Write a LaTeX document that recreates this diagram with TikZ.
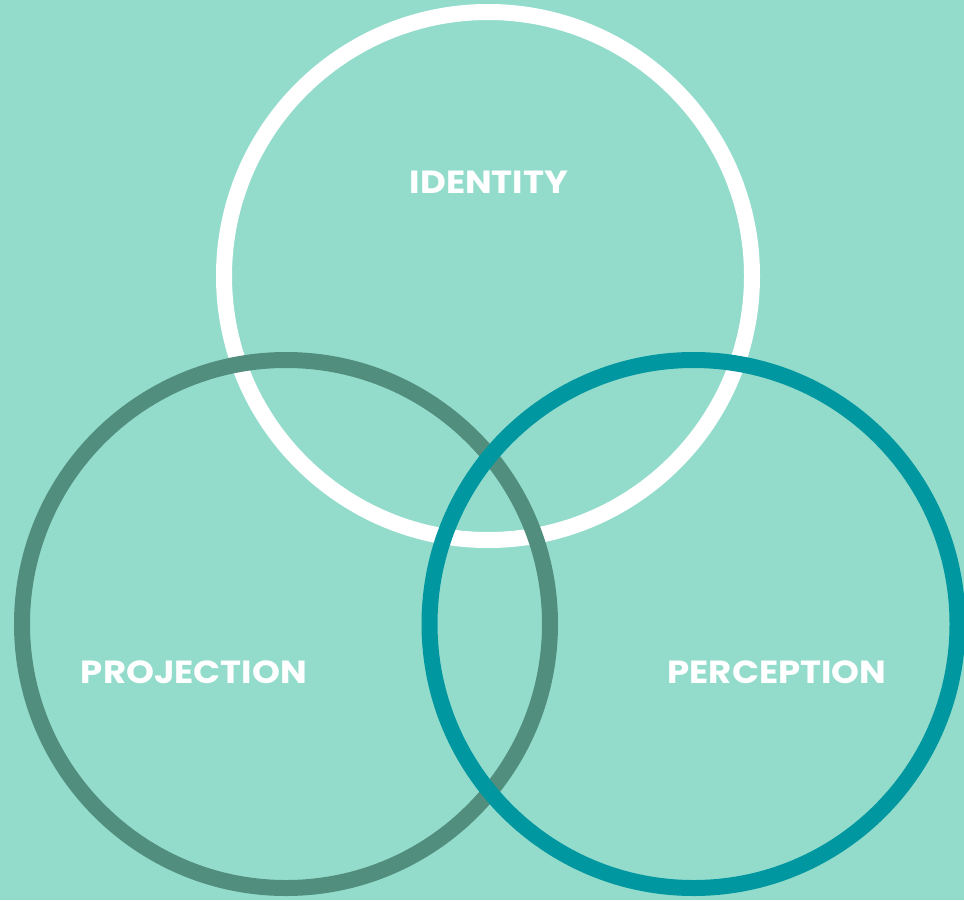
\documentclass[tikz,border=0pt]{standalone}
\usepackage{fontspec}
\setmainfont{Poppins}
\newfontfamily\lblfont[FakeStretch=1.11]{Poppins}
\definecolor{bgc}{HTML}{93DCCC}
\definecolor{grayc}{HTML}{528E7E}
\definecolor{tealc}{HTML}{0097A0}
\begin{document}
\begin{tikzpicture}[x=1pt,y=-1pt,
  ring/.style={line width=16pt},
  lbl/.style={text=white,font=\lblfont\fontsize{32}{32}\selectfont\bfseries,anchor=base,inner sep=0pt}]
\fill[bgc] (0,0) rectangle (964,900);
\useasboundingbox (0,0) rectangle (964,900);
\coordinate (cI) at (488,276);
\coordinate (cL) at (286,624);
\coordinate (cR) at (693.5,624);
\draw[ring,white] (cI) circle[radius=264];
\draw[ring,grayc] (cL) circle[radius=264];
\draw[ring,tealc] (cR) circle[radius=264];
\node[lbl] (identity) at (489,193) {IDENTITY};
\node[lbl] (projection) at (194,683) {PROJECTION};
\node[lbl] (perception) at (777,683) {PERCEPTION};
\end{tikzpicture}
\end{document}
